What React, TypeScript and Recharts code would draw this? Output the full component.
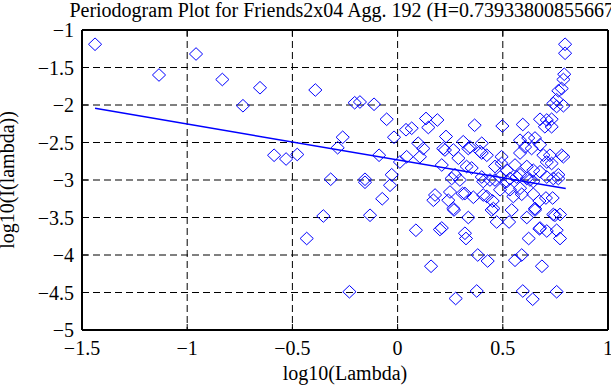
import {
  CartesianGrid,
  Scatter,
  ScatterChart,
  XAxis,
  YAxis,
} from 'recharts'

// log10(Lambda) values of the periodogram points
const lambdaLog = [
  -1.438, -0.958, -1.134, -0.833, -0.654, -0.735, -0.391, -0.204, -0.179, -0.112,
  -0.261, -0.285, -0.587, -0.53, -0.477, -0.318, -0.353, -0.432, -0.229, 0.796,
  0.796, 0.792, 0.788, 0.78, 0.764, 0.756, 0.74, 0.788, -0.052, -0.017,
  0.04, 0.067, 0.135, 0.189, 0.146, 0.23, 0.366, 0.498, 0.595, 0.677,
  0.732, 0.7, -0.088, 0.011, 0.043, 0.098, 0.122, 0.106, 0.21, 0.225,
  0.289, 0.312, 0.344, 0.4, 0.4, 0.328, 0.273, -0.155, -0.028, -0.155,
  -0.036, -0.073, -0.131, 0.087, 0.201, 0.159, 0.325, 0.381, 0.428, 0.276,
  0.376, 0.558, 0.59, 0.686, 0.595, 0.642, 0.756, 0.623, 0.674, 0.709,
  0.772, 0.471, 0.53, 0.447, 0.542, 0.614, 0.653, 0.74, 0.772, 0.336,
  0.268, 0.241, 0.178, 0.17, 0.309, 0.36, 0.407, 0.452, 0.487, 0.55,
  0.59, 0.645, 0.674, 0.705, 0.737, 0.257, 0.296, 0.4, 0.439, 0.487,
  0.519, 0.566, 0.614, 0.645, 0.709, 0.764, 0.709, 0.732, 0.756, 0.336,
  0.392, 0.424, 0.217, 0.265, 0.352, 0.494, 0.494, 0.463, 0.519, 0.558,
  0.582, 0.606, 0.582, 0.621, 0.653, 0.637, 0.677, 0.693, 0.724, 0.78,
  0.788, 0.709, 0.732, 0.614, 0.645, 0.677, 0.582, 0.764, 0.534, 0.249,
  0.32, 0.265, 0.424, 0.455, 0.534, 0.582, 0.629, 0.74, 0.677, 0.756,
  0.21, 0.32, 0.407, 0.463, 0.653, 0.748,
]

// log10(I(lambda)) values, same order
const powerLog = [
  -1.19, -1.32, -1.6, -1.66, -1.77, -2.01, -1.8, -1.97, -1.96, -1.99,
  -2.43, -2.57, -2.67, -2.72, -2.66, -2.99, -3.48, -3.78, -4.49, -1.19,
  -1.31, -1.59, -1.66, -1.78, -1.81, -1.93, -1.98, -2.01, -2.19, -2.43,
  -2.33, -2.31, -2.18, -2.2, -2.3, -2.42, -2.27, -2.28, -2.26, -2.19,
  -2.19, -2.29, -2.67, -2.76, -2.69, -2.51, -2.58, -2.69, -2.8, -2.6,
  -2.71, -2.49, -2.56, -2.51, -2.64, -2.82, -2.93, -2.99, -2.93, -3.03,
  -3.07, -3.25, -3.47, -3.67, -3.66, -4.15, -3.78, -4.0, -4.08, -4.58,
  -4.48, -4.07, -4.0, -4.15, -4.48, -4.59, -4.49, -3.78, -3.65, -3.68,
  -3.78, -3.56, -3.56, -3.4, -3.4, -3.5, -3.4, -3.46, -3.46, -3.5,
  -3.4, -3.27, -3.2, -3.27, -3.18, -3.23, -3.2, -3.28, -3.13, -3.22,
  -3.19, -3.19, -3.28, -3.24, -3.24, -2.98, -3.0, -2.96, -3.0, -2.96,
  -3.02, -2.96, -2.98, -3.02, -2.96, -2.98, -2.2, -2.29, -2.02, -2.58,
  -2.62, -2.67, -2.58, -2.6, -2.84, -2.69, -2.78, -2.82, -2.87, -2.8,
  -2.64, -2.56, -2.47, -2.44, -2.44, -2.58, -2.53, -2.67, -2.67, -2.67,
  -2.69, -2.76, -2.78, -2.82, -2.87, -2.89, -2.93, -2.93, -2.98, -3.16,
  -3.18, -3.38, -3.22, -3.38, -3.13, -3.11, -3.0, -2.98, -3.64, -3.67,
  -3.64, -3.71, -3.02, -3.0, -3.38, -3.47,
]

// least-squares fit line end points
const fitX = [-1.438, 0.799]
const fitY = [-2.044, -3.114]

const xTicks = [-1.5, -1, -0.5, 0, 0.5, 1]
const yTicks = [-5, -4.5, -4, -3.5, -3, -2.5, -2, -1.5, -1]

const titleText = 'Periodogram Plot for Friends2x04 Agg. 192 (H=0.73933800855667)'
const xLabel = 'log10(Lambda)'
const yLabel = 'log10(I(lambda))'

const FONT = '"Liberation Serif", "Times New Roman", serif'
const BLUE = '#0000ff'

const points = lambdaLog.map((x, i) => ({ x, y: powerLog[i] }))
const fitLine = fitX.map((x, i) => ({ x, y: fitY[i] }))

const fmt = (v: number) => (v < 0 ? '\u2212' + String(-v) : String(v))

const Diamond = (props: any) => {
  const { cx, cy } = props
  return (
    <path
      d={`M${cx},${cy - 6.3}L${cx + 6.6},${cy}L${cx},${cy + 6.3}L${cx - 6.6},${cy}Z`}
      fill='none'
      stroke={BLUE}
      strokeWidth={1}
    />
  )
}

const NoDot = () => <g />

const BottomTick = ({ x, y, payload }: any) => (
  <g>
    <line x1={x} x2={x} y1={y} y2={y - 6} stroke='#000' strokeWidth={1} />
    <text x={x} y={y + 25} textAnchor='middle' fontFamily={FONT} fontSize={20} fill='#000'>
      {fmt(payload.value)}
    </text>
  </g>
)

const TopTick = ({ x, y }: any) => (
  <line x1={x} x2={x} y1={y} y2={y + 6} stroke='#000' strokeWidth={1} />
)

const LeftTick = ({ x, y, payload }: any) => (
  <g>
    <line x1={x} x2={x + 6} y1={y} y2={y} stroke='#000' strokeWidth={1} />
    <text x={x - 8} y={y + 7} textAnchor='end' fontFamily={FONT} fontSize={20} fill='#000'>
      {fmt(payload.value)}
    </text>
  </g>
)

const RightTick = ({ x, y }: any) => (
  <line x1={x} x2={x - 6} y1={y} y2={y} stroke='#000' strokeWidth={1} />
)

export default function App() {
  return (
    <div style={{ position: 'absolute', left: 0, top: 0, width: 611, height: 385, background: '#fff' }}>
      <ScatterChart width={611} height={385} margin={{ top: 0, right: 0, bottom: 0, left: 0 }}>
        <CartesianGrid stroke='#000' strokeDasharray='7 4' strokeWidth={1} />
        <XAxis
          type='number'
          dataKey='x'
          domain={[-1.5, 1]}
          ticks={xTicks}
          interval={0}
          height={55}
          tickSize={0}
          tickMargin={0}
          tickLine={false}
          tick={<BottomTick />}
          stroke='#000'
          strokeWidth={2}
          allowDataOverflow
          label={{
            content: ({ viewBox }: any) => (
              <text
                x={viewBox.x + viewBox.width / 2}
                y={viewBox.y + 50}
                textAnchor='middle'
                fontFamily={FONT}
                fontSize={20}
                fill='#000'
              >
                {xLabel}
              </text>
            ),
          }}
        />
        <XAxis
          xAxisId='top'
          orientation='top'
          type='number'
          dataKey='x'
          domain={[-1.5, 1]}
          ticks={xTicks}
          interval={0}
          height={30}
          tickSize={0}
          tickMargin={0}
          tickLine={false}
          tick={<TopTick />}
          stroke='#000'
          strokeWidth={2}
          allowDataOverflow
          label={{
            content: ({ viewBox }: any) => (
              <text
                x={viewBox.x + viewBox.width / 2}
                y={viewBox.y + 17}
                textAnchor='middle'
                fontFamily={FONT}
                fontSize={20}
                fill='#000'
              >
                {titleText}
              </text>
            ),
          }}
        />
        <YAxis
          type='number'
          dataKey='y'
          domain={[-5, -1]}
          ticks={yTicks}
          interval={0}
          width={82}
          tickSize={0}
          tickMargin={0}
          tickLine={false}
          tick={<LeftTick />}
          stroke='#000'
          strokeWidth={2}
          allowDataOverflow
          label={{
            content: ({ viewBox }: any) => {
              const cx = viewBox.x + 14
              const cy = viewBox.y + viewBox.height / 2
              return (
                <text
                  x={cx}
                  y={cy}
                  transform={`rotate(-90 ${cx} ${cy})`}
                  textAnchor='middle'
                  fontFamily={FONT}
                  fontSize={20}
                  fill='#000'
                >
                  {yLabel}
                </text>
              )
            },
          }}
        />
        <YAxis
          yAxisId='right'
          orientation='right'
          type='number'
          dataKey='y'
          domain={[-5, -1]}
          ticks={yTicks}
          interval={0}
          width={3}
          tickSize={0}
          tickMargin={0}
          tickLine={false}
          tick={<RightTick />}
          stroke='#000'
          strokeWidth={2}
          allowDataOverflow
        />
        <Scatter data={points} shape={Diamond} isAnimationActive={false} />
        <Scatter
          data={fitLine}
          line={{ stroke: BLUE, strokeWidth: 1.5 }}
          shape={NoDot}
          isAnimationActive={false}
        />
      </ScatterChart>
    </div>
  )
}
